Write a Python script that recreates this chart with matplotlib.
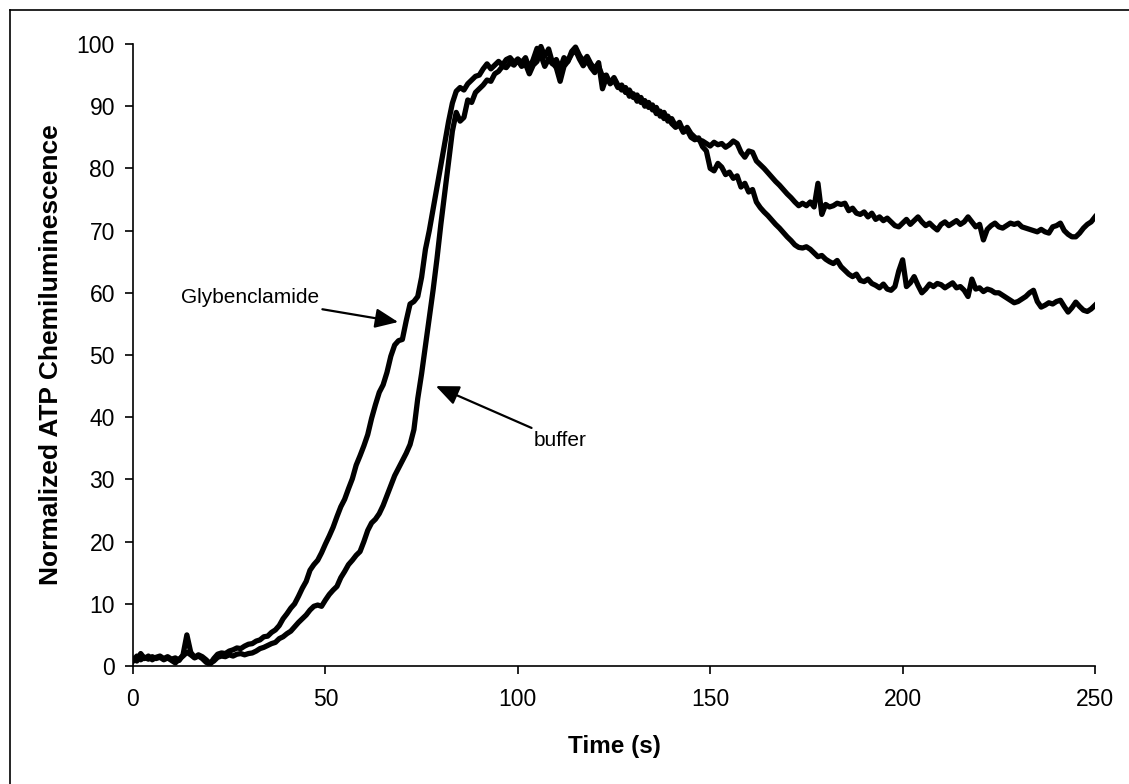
#!/usr/bin/env python3
"""
ATP chemiluminescence time course: glybenclamide vs buffer
"""

import numpy as np
import matplotlib
matplotlib.use("Agg")
import matplotlib.pyplot as plt
from matplotlib.lines import Line2D

plt.rcParams['font.family'] = ['Liberation Sans', 'DejaVu Sans']

# Time grid (1 s sampling)
time_s = np.arange(0, 251)

# Glybenclamide trace (rises earlier)
glyb = [
    0.8, 1.6, 1.0, 1.4, 1.1, 1.5, 1.2, 1.4, 1.0, 1.3,
    0.9, 0.5, 1.1, 1.6, 2.2, 1.8, 1.3, 1.6, 1.2, 0.6,
    0.3, 1.2, 1.9, 2.1, 2.0, 2.4, 2.6, 2.9, 2.8, 3.2,
    3.5, 3.6, 4.0, 4.2, 4.7, 4.8, 5.4, 5.8, 6.5, 7.6,
    8.4, 9.3, 10.0, 11.2, 12.5, 13.6, 15.4, 16.3, 17.0, 18.2,
    19.6, 20.9, 22.3, 24.0, 25.6, 26.8, 28.5, 30.1, 32.3, 33.8,
    35.4, 37.2, 39.8, 42.0, 44.0, 45.2, 47.2, 49.8, 51.6, 52.3,
    52.5, 55.5, 58.2, 58.6, 59.4, 62.5, 67.0, 70.0, 73.5, 77.0,
    80.5, 84.0, 87.5, 90.5, 92.4, 93.0, 92.6, 93.6, 94.2, 94.8,
    95.0, 96.0, 96.8, 96.0, 96.6, 97.2, 96.6, 97.5, 97.8, 97.0,
    97.6, 97.0, 97.8, 96.0, 97.5, 99.3, 98.2, 96.4, 97.6, 96.8,
    97.5, 96.0, 97.8, 97.2, 98.4, 99.0, 97.6, 96.5, 97.4, 96.2,
    95.4, 96.4, 94.8, 95.0, 93.6, 94.2, 93.0, 93.4, 92.2, 92.6,
    91.4, 91.8, 90.6, 90.9, 89.8, 90.2, 88.8, 89.2, 88.0, 88.4,
    87.2, 86.6, 87.0, 85.8, 86.2, 85.0, 84.6, 84.9, 83.5, 82.8,
    80.0, 79.6, 80.8, 80.2, 79.0, 79.4, 78.4, 78.8, 77.0, 77.6,
    76.2, 76.6, 74.6, 73.7, 73.0, 72.4, 71.7, 71.0, 70.4, 69.7,
    69.0, 68.4, 67.7, 67.3, 67.2, 67.4, 67.0, 66.4, 65.8, 66.0,
    65.4, 65.0, 64.7, 65.2, 64.2, 63.6, 63.0, 62.6, 63.0, 62.0,
    61.8, 62.2, 61.5, 61.2, 60.8, 61.4, 60.6, 60.4, 61.0, 63.5,
    65.3, 61.0, 61.6, 62.6, 61.2, 60.0, 60.6, 61.4, 61.0, 61.5,
    61.3, 60.8, 61.2, 61.6, 60.8, 61.0, 60.4, 59.4, 62.2, 60.6,
    60.8, 60.2, 60.6, 60.4, 60.0, 60.0, 59.6, 59.2, 58.8, 58.4,
    58.6, 59.0, 59.4, 60.0, 60.4, 58.6, 57.7, 58.0, 58.4, 58.2,
    58.6, 58.8, 57.8, 56.9, 57.6, 58.5, 57.8, 57.2, 57.0, 57.4,
    58.0,
]

# Buffer trace
buffer = [
    1.2, 0.8, 2.0, 1.2, 1.6, 1.0, 1.4, 1.6, 1.2, 1.5,
    1.1, 1.3, 0.9, 1.8, 5.0, 2.2, 1.4, 1.8, 1.5, 1.0,
    0.4, 0.8, 1.4, 1.6, 1.5, 1.8, 1.6, 1.9, 2.0, 1.8,
    2.0, 2.1, 2.4, 2.8, 3.0, 3.3, 3.6, 3.8, 4.4, 4.7,
    5.2, 5.6, 6.3, 7.0, 7.6, 8.2, 9.0, 9.6, 9.8, 9.6,
    10.6, 11.5, 12.2, 12.8, 14.2, 15.2, 16.3, 17.0, 17.8, 18.4,
    20.0, 21.8, 23.0, 23.6, 24.5, 25.8, 27.4, 29.0, 30.6, 31.8,
    33.0, 34.2, 35.6, 38.0, 43.0, 47.0, 51.5, 56.0, 60.5, 65.5,
    71.0, 76.0, 81.0, 86.0, 89.0, 87.6, 88.2, 91.0, 90.6, 92.2,
    92.8, 93.4, 94.2, 94.0, 95.2, 95.6, 96.4, 96.2, 97.0, 96.6,
    97.4, 96.4, 96.8, 95.2, 96.6, 97.2, 99.6, 98.0, 99.2, 97.0,
    96.2, 94.0, 96.4, 97.2, 98.8, 99.5, 98.2, 97.2, 98.0, 96.8,
    96.0, 97.0, 92.8, 94.6, 93.8, 94.6, 93.4, 92.6, 93.0, 91.6,
    92.0, 90.8, 91.4, 90.0, 90.6, 89.4, 89.8, 88.4, 89.0, 87.6,
    88.0, 86.8, 87.4, 86.0, 86.6, 85.6, 85.0, 84.6, 84.4, 84.0,
    83.6, 84.2, 83.8, 84.0, 83.4, 83.8, 84.4, 84.0, 82.6, 81.8,
    82.8, 82.6, 81.2, 80.6, 80.0, 79.3, 78.6, 77.9, 77.3, 76.6,
    75.9, 75.3, 74.6, 74.0, 74.4, 74.0, 74.6, 73.8, 77.6, 72.6,
    74.2, 73.8, 74.0, 74.4, 74.2, 74.4, 73.2, 73.6, 72.8, 72.6,
    73.0, 72.2, 72.8, 71.8, 72.2, 71.6, 72.0, 71.4, 70.8, 70.6,
    71.2, 71.8, 71.0, 71.6, 72.2, 71.4, 70.8, 71.2, 70.6, 70.1,
    71.0, 71.4, 70.8, 71.2, 71.6, 71.0, 71.4, 72.2, 71.4, 70.6,
    71.0, 68.5, 70.2, 70.8, 71.2, 70.6, 70.4, 70.8, 71.2, 71.0,
    71.2, 70.6, 70.4, 70.2, 70.0, 69.8, 70.2, 69.8, 69.6, 70.6,
    70.8, 71.2, 70.0, 69.4, 69.0, 69.0, 69.6, 70.4, 71.0, 71.4,
    72.2,
]

X_TICKS = [0, 50, 100, 150, 200, 250]
Y_TICKS = [0, 10, 20, 30, 40, 50, 60, 70, 80, 90, 100]

fig = plt.figure(figsize=(11.29, 7.84), dpi=100)
ax = fig.add_axes([0.1178, 0.1505, 0.8521, 0.7934])

ax.plot(time_s, glyb, color="black", linewidth=3.8, solid_joinstyle="round")
ax.plot(time_s, buffer, color="black", linewidth=3.8, solid_joinstyle="round")

ax.set_xlim(0, 250)
ax.set_ylim(0, 100)
ax.set_xticks(X_TICKS)
ax.set_yticks(Y_TICKS)
ax.tick_params(axis="both", direction="out", length=6, width=1.2,
               labelsize=16.5)
ax.tick_params(axis="x", pad=10)
ax.tick_params(axis="y", pad=7)
ax.spines["top"].set_visible(False)
ax.spines["right"].set_visible(False)
ax.spines["left"].set_linewidth(1.2)
ax.spines["bottom"].set_linewidth(1.2)

ax.set_xlabel("Time (s)", fontsize=17.5, fontweight="bold", labelpad=17)
ax.set_ylabel("Normalized ATP Chemiluminescence", fontsize=19,
              fontweight="bold", labelpad=10)

arrow = dict(arrowstyle="-|>,head_length=0.7,head_width=0.3",
             color="black", lw=1.6, mutation_scale=20, shrinkA=0, shrinkB=0)
ax.annotate("Glybenclamide", xy=(68.9, 55.3), xytext=(12.6, 59.3),
            fontsize=15, ha="left", va="center", arrowprops=arrow)
ax.annotate("buffer", xy=(78.7, 45.0), xytext=(104.0, 36.3),
            fontsize=15, ha="left", va="center", arrowprops=arrow)

# scanned page frame (top and left edges)
fig.add_artist(Line2D([10 / 1129, 1.0], [1 - 10 / 784, 1 - 10 / 784],
                      transform=fig.transFigure, color="black", lw=1.2))
fig.add_artist(Line2D([10 / 1129, 10 / 1129], [0.0, 1 - 10 / 784],
                      transform=fig.transFigure, color="black", lw=1.2))

fig.savefig("out.png", dpi=100)
